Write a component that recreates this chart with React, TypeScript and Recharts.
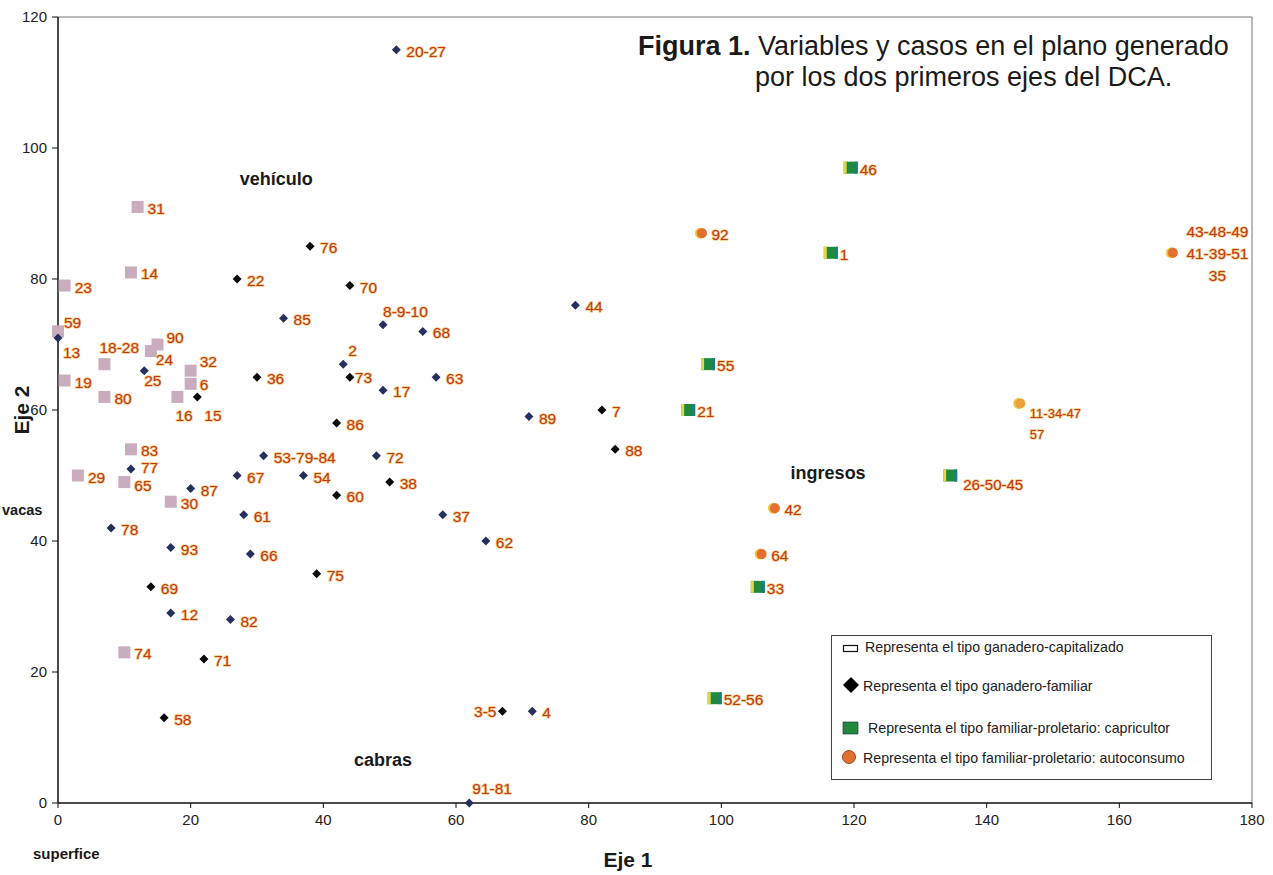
import { ScatterChart, Scatter, XAxis, YAxis, ReferenceLine } from "recharts";

const X_TICKS = [0, 20, 40, 60, 80, 100, 120, 140, 160, 180];
const Y_TICKS = [0, 20, 40, 60, 80, 100, 120];

type Pt = { x: number; y: number; name: string };

// ganadero-capitalizado (pink squares)
const CAPITALIZADO: Pt[] = [
  { x: 12, y: 91, name: "31" },
  { x: 11, y: 81, name: "14" },
  { x: 1, y: 79, name: "23" },
  { x: 0, y: 72, name: "59" },
  { x: 1, y: 64.5, name: "19" },
  { x: 7, y: 67, name: "18-28" },
  { x: 14, y: 69, name: "24" },
  { x: 15, y: 70, name: "90" },
  { x: 20, y: 66, name: "32" },
  { x: 20, y: 64, name: "6" },
  { x: 7, y: 62, name: "80" },
  { x: 18, y: 62, name: "16" },
  { x: 11, y: 54, name: "83" },
  { x: 3, y: 50, name: "29" },
  { x: 10, y: 49, name: "65" },
  { x: 17, y: 46, name: "30" },
  { x: 10, y: 23, name: "74" },
];

// ganadero-familiar, black diamonds
const FAMILIAR_NEGRO: Pt[] = [
  { x: 27, y: 80, name: "22" },
  { x: 30, y: 65, name: "36" },
  { x: 21, y: 62, name: "15" },
  { x: 38, y: 85, name: "76" },
  { x: 44, y: 79, name: "70" },
  { x: 44, y: 65, name: "73" },
  { x: 42, y: 58, name: "86" },
  { x: 42, y: 47, name: "60" },
  { x: 50, y: 49, name: "38" },
  { x: 39, y: 35, name: "75" },
  { x: 14, y: 33, name: "69" },
  { x: 22, y: 22, name: "71" },
  { x: 16, y: 13, name: "58" },
  { x: 67, y: 14, name: "3-5" },
  { x: 82, y: 60, name: "7" },
  { x: 84, y: 54, name: "88" },
];

// ganadero-familiar, navy diamonds
const FAMILIAR_AZUL: Pt[] = [
  { x: 51, y: 115, name: "20-27" },
  { x: 34, y: 74, name: "85" },
  { x: 13, y: 66, name: "25" },
  { x: 0, y: 71, name: "13" },
  { x: 49, y: 73, name: "8-9-10" },
  { x: 55, y: 72, name: "68" },
  { x: 43, y: 67, name: "2" },
  { x: 49, y: 63, name: "17" },
  { x: 57, y: 65, name: "63" },
  { x: 31, y: 53, name: "53-79-84" },
  { x: 48, y: 53, name: "72" },
  { x: 27, y: 50, name: "67" },
  { x: 37, y: 50, name: "54" },
  { x: 58, y: 44, name: "37" },
  { x: 64.5, y: 40, name: "62" },
  { x: 71, y: 59, name: "89" },
  { x: 78, y: 76, name: "44" },
  { x: 11, y: 51, name: "77" },
  { x: 20, y: 48, name: "87" },
  { x: 28, y: 44, name: "61" },
  { x: 8, y: 42, name: "78" },
  { x: 17, y: 39, name: "93" },
  { x: 29, y: 38, name: "66" },
  { x: 17, y: 29, name: "12" },
  { x: 26, y: 28, name: "82" },
  { x: 71.5, y: 14, name: "4" },
  { x: 62, y: 0, name: "91-81" },
];

// familiar-proletario: capricultor
const CAPRICULTOR: Pt[] = [
  { x: 119.5, y: 97, name: "46" },
  { x: 116.5, y: 84, name: "1" },
  { x: 98, y: 67, name: "55" },
  { x: 95, y: 60, name: "21" },
  { x: 105.5, y: 33, name: "33" },
  { x: 134.5, y: 50, name: "26-50-45" },
  { x: 99, y: 16, name: "52-56" },
];

// familiar-proletario: autoconsumo
const AUTOCONSUMO: Pt[] = [
  { x: 97, y: 87, name: "92" },
  { x: 108, y: 45, name: "42" },
  { x: 106, y: 38, name: "64" },
  { x: 168, y: 84, name: "43-48-49\n41-39-51\n35" },
  { x: 145, y: 61, name: "11-34-47\n57" },
];

const VARIABLES: Pt[] = [
  { x: 32.9, y: 95.3, name: "vehículo" },
  { x: 116.1, y: 50.4, name: "ingresos" },
  { x: 49, y: 6.6, name: "cabras" },
];

const FONT = "'Liberation Sans', Arial, Helvetica, sans-serif";
const LABEL_FILL = "#bd3a1b";
const LABEL_HALO = "#f7cf86";

type Place = { dx: number; dy: number; anchor?: "start" | "middle" | "end"; size?: number; lh?: number };
const DEFAULT_PLACE: Place = { dx: 10, dy: 1 };
const PLACES: Record<string, Place> = {
  "59": { dx: 6, dy: -9 },
  "13": { dx: 5, dy: 14 },
  "18-28": { dx: -5, dy: -17 },
  "24": { dx: 5, dy: 8 },
  "90": { dx: 9, dy: -8 },
  "25": { dx: 0, dy: 9 },
  "32": { dx: 9, dy: -10 },
  "6": { dx: 9, dy: 0 },
  "16": { dx: -2, dy: 18 },
  "15": { dx: 7, dy: 18 },
  "77": { dx: 10, dy: -2 },
  "65": { dx: 10, dy: 3 },
  "8-9-10": { dx: 0, dy: -14 },
  "2": { dx: 5, dy: -14 },
  "73": { dx: 5, dy: 0 },
  "91-81": { dx: 3, dy: -15 },
  "3-5": { dx: -6, dy: 0, anchor: "end" },
  "26-50-45": { dx: 13, dy: 8, size: 15 },
  "11-34-47\n57": { dx: 10, dy: 10, size: 13, lh: 21 },
  "43-48-49\n41-39-51\n35": { dx: 45, dy: -22, anchor: "middle", lh: 22 },
  "46": { dx: 9, dy: 1 },
  "1": { dx: 9, dy: 1 },
  "55": { dx: 9, dy: 1 },
  "21": { dx: 9, dy: 1 },
  "33": { dx: 9, dy: 1 },
  "52-56": { dx: 9, dy: 1 },
};

function caseLabel(cx: number, cy: number, name: string) {
  const p = PLACES[name] ?? DEFAULT_PLACE;
  const lines = name.split("\n");
  const x = cx + p.dx;
  return (
    <text
      x={x}
      y={cy + p.dy}
      textAnchor={p.anchor ?? "start"}
      dominantBaseline="central"
      fontSize={p.size ?? 15.5}
      fontFamily={FONT}
      fill={LABEL_FILL}
      stroke={LABEL_HALO}
      strokeWidth={1.6}
      strokeLinejoin="round"
      paintOrder="stroke"
    >
      {lines.map((l, i) => (
        <tspan key={i} x={x} dy={i === 0 ? 0 : p.lh ?? 20}>
          {l}
        </tspan>
      ))}
    </text>
  );
}

const pinkSquare = (props: any) => {
  const { cx, cy, payload } = props;
  return (
    <g>
      <rect x={cx - 6} y={cy - 6} width={12} height={12} fill="#c9adbf" />
      {caseLabel(cx, cy, payload.name)}
    </g>
  );
};

const diamond = (color: string) => (props: any) => {
  const { cx, cy, payload } = props;
  return (
    <g>
      <path d={`M${cx},${cy - 4.5}L${cx + 4.5},${cy}L${cx},${cy + 4.5}L${cx - 4.5},${cy}Z`} fill={color} />
      {caseLabel(cx, cy, payload.name)}
    </g>
  );
};

const greenSquare = (props: any) => {
  const { cx, cy, payload } = props;
  return (
    <g>
      <rect x={cx - 7} y={cy - 6} width={14} height={12} fill="#1f8a3e" />
      <rect x={cx - 7} y={cy - 6} width={3} height={12} fill="#e2d84a" />
      <rect x={cx + 4} y={cy - 6} width={3} height={12} fill="#1d7d7a" />
      {caseLabel(cx, cy, payload.name)}
    </g>
  );
};

const orangeDot = (props: any) => {
  const { cx, cy, payload } = props;
  const yellowish = payload.name.startsWith("11");
  return (
    <g>
      <circle cx={cx - 1} cy={cy} r={5.5} fill="#f0c640" />
      <circle cx={cx + 0.5} cy={cy} r={5} fill={yellowish ? "#eea03a" : "#e4702f"} />
      {caseLabel(cx, cy, payload.name)}
    </g>
  );
};

const variableLabel = (props: any) => {
  const { cx, cy, payload } = props;
  return (
    <text x={cx} y={cy} textAnchor="middle" dominantBaseline="central" fontSize={18} fontWeight="bold" fontFamily={FONT} fill="#1a1a1a">
      {payload.name}
    </text>
  );
};

const LEGEND_ROWS = [
  "Representa el tipo ganadero-capitalizado",
  "Representa el tipo ganadero-familiar",
  "Representa el tipo familiar-proletario: capricultor",
  "Representa el tipo familiar-proletario: autoconsumo",
];

function LegendBox() {
  const rowY = [646, 685, 727, 757];
  const textX = [864, 862, 867, 862];
  return (
    <div
      style={{
        position: "absolute",
        left: 831,
        top: 635,
        width: 381,
        height: 145,
        border: "1px solid #444",
        boxSizing: "border-box",
        background: "#fff",
      }}
    >
      <svg width={381} height={145} style={{ position: "absolute", left: -1, top: -1 }}>
        <rect x={12.5} y={10.5} width={14} height={6} fill="#fff" stroke="#111" strokeWidth={1.2} />
        <path d="M20,42 L28,50 L20,58 L12,50 Z" fill="#000" />
        <rect x={12} y={87} width={15} height={12} fill="#1f8a3e" stroke="#124" strokeWidth={0.6} />
        <circle cx={18} cy={122} r={6.5} fill="#e4702f" stroke="#7a2a10" strokeWidth={0.8} />
        {LEGEND_ROWS.map((t, i) => (
          <text key={i} x={textX[i] - 830} y={rowY[i] - 634} dominantBaseline="central" fontSize={14.2} fontFamily={FONT} fill="#222">
            {t}
          </text>
        ))}
      </svg>
    </div>
  );
}

export default function App() {
  return (
    <div style={{ position: "relative", width: 1273, height: 875, fontFamily: FONT, background: "#fff" }}>
      <style>{"body{margin:0}"}</style>
      <ScatterChart width={1273} height={875} margin={{ top: 17, right: 21, bottom: 0, left: 0 }}>
        <XAxis
          type="number"
          dataKey="x"
          domain={[0, 180]}
          ticks={X_TICKS}
          interval={0}
          height={72}
          tickSize={5}
          tickMargin={6}
          axisLine={{ stroke: "#111", strokeWidth: 1.5 }}
          tickLine={{ stroke: "#111" }}
          tick={{ fill: "#222", fontSize: 15, fontFamily: FONT }}
          label={{ value: "Eje 1", position: "insideBottom", offset: 8, dx: -27, fontSize: 21, fontWeight: "bold", fill: "#1a1a1a", fontFamily: FONT }}
        />
        <YAxis
          type="number"
          dataKey="y"
          domain={[0, 120]}
          ticks={Y_TICKS}
          interval={0}
          width={58}
          tickSize={6}
          tickMargin={5}
          axisLine={{ stroke: "#111", strokeWidth: 1.5 }}
          tickLine={{ stroke: "#111" }}
          tick={{ fill: "#222", fontSize: 15, fontFamily: FONT }}
          label={{
            value: "Eje 2",
            angle: -90,
            position: "insideLeft",
            offset: 22,
            fontSize: 21,
            fontWeight: "bold",
            fill: "#1a1a1a",
            fontFamily: FONT,
            style: { textAnchor: "middle" },
          }}
        />
        <ReferenceLine y={120} stroke="#777" strokeWidth={1} />
        <ReferenceLine x={180} stroke="#777" strokeWidth={1} />
        <Scatter data={VARIABLES} shape={variableLabel} isAnimationActive={false} />
        <Scatter data={CAPITALIZADO} shape={pinkSquare} isAnimationActive={false} />
        <Scatter data={FAMILIAR_AZUL} shape={diamond("#25305e")} isAnimationActive={false} />
        <Scatter data={FAMILIAR_NEGRO} shape={diamond("#0a0a0a")} isAnimationActive={false} />
        <Scatter data={CAPRICULTOR} shape={greenSquare} isAnimationActive={false} />
        <Scatter data={AUTOCONSUMO} shape={orangeDot} isAnimationActive={false} />
      </ScatterChart>

      <div style={{ position: "absolute", left: 2, top: 502, fontSize: 14.5, fontWeight: "bold", color: "#1a1a1a" }}>vacas</div>
      <div style={{ position: "absolute", left: 33, top: 845, fontSize: 15, fontWeight: "bold", color: "#1a1a1a" }}>superfice</div>

      <div style={{ position: "absolute", left: 638, top: 31, fontSize: 27, lineHeight: "30px", color: "#1a1a1a", whiteSpace: "nowrap" }}>
        <b>Figura 1.</b> Variables y casos en el plano generado
      </div>
      <div style={{ position: "absolute", left: 755, top: 62, fontSize: 27, lineHeight: "30px", color: "#1a1a1a", whiteSpace: "nowrap" }}>
        por los dos primeros ejes del DCA.
      </div>

      <LegendBox />
    </div>
  );
}
